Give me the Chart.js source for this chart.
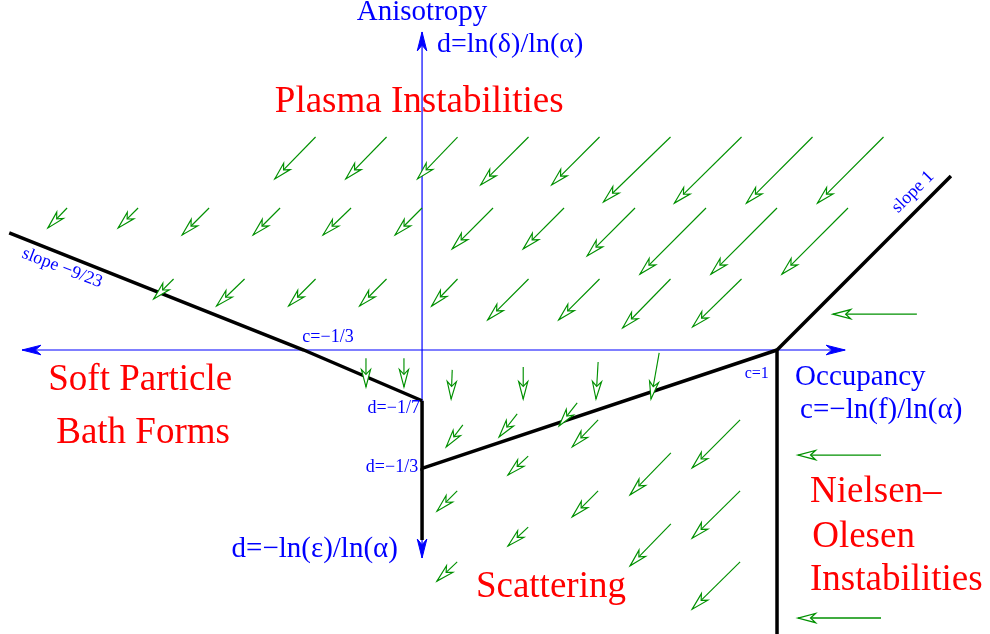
<!DOCTYPE html>
<html><head><meta charset="utf-8">
<script src="https://cdn.jsdelivr.net/npm/chart.js@4.4.0/dist/chart.umd.min.js"></script>
<style>html,body{margin:0;padding:0;background:#fff;}canvas{display:block;}</style>
</head><body>
<canvas id="c" width="990" height="634"></canvas>
<script>
// c = occupancy (horizontal), d = anisotropy (vertical)
const cRange = [-1.189, 1.6];
const dRange = [-0.8, 0.986];

// flow arrows, each [c_tail, d_tail, c_head, d_head]
const plasmaArrows = [
  [-0.3,0.6,-0.415,0.482],[-0.1,0.6,-0.215,0.482],[0.1,0.6,-0.013,0.482],
  [0.3,0.6,0.165,0.465],[0.5,0.6,0.365,0.465],[0.7,0.6,0.511,0.417],
  [0.9,0.6,0.711,0.414],[1.1,0.6,0.914,0.414],[1.3,0.6,1.114,0.414],
  [-1.0,0.4,-1.054,0.344],[-0.8,0.4,-0.856,0.344],[-0.6,0.4,-0.676,0.324],
  [-0.4,0.4,-0.476,0.324],[-0.2,0.4,-0.279,0.324],[0.0,0.4,-0.076,0.324],
  [0.2,0.4,0.085,0.285],[0.4,0.4,0.285,0.285],[0.6,0.4,0.465,0.265],
  [0.8,0.4,0.614,0.214],[1.0,0.4,0.814,0.214],[1.2,0.4,1.014,0.214],
  [-0.7,0.2,-0.756,0.144],[-0.5,0.2,-0.579,0.124],[-0.3,0.2,-0.376,0.124],
  [-0.1,0.2,-0.176,0.124],[0.1,0.2,0.027,0.124],[0.3,0.2,0.185,0.085],
  [0.5,0.2,0.385,0.085],[0.7,0.2,0.565,0.062],[0.9,0.2,0.762,0.065]
];
const axisArrows = [
  [-0.158,-0.023,-0.158,-0.104],[-0.051,-0.023,-0.051,-0.104],
  [0.085,-0.056,0.082,-0.138],[0.285,-0.048,0.285,-0.138],
  [0.496,-0.034,0.490,-0.138],[0.668,-0.008,0.645,-0.138]
];
const scatteringArrows = [
  [0.115,-0.211,0.068,-0.273],[0.268,-0.180,0.217,-0.245],
  [0.437,-0.149,0.386,-0.214],[0.496,-0.197,0.423,-0.273],
  [0.299,-0.299,0.242,-0.352],[0.701,-0.290,0.586,-0.408],
  [0.896,-0.197,0.761,-0.332],[0.099,-0.397,0.042,-0.454],
  [0.496,-0.397,0.423,-0.470],[0.896,-0.397,0.761,-0.530],
  [0.299,-0.499,0.242,-0.552],[0.701,-0.490,0.586,-0.608],
  [0.896,-0.597,0.761,-0.730],[0.099,-0.597,0.042,-0.651]
];
const nielsenArrows = [
  [1.394,0.101,1.158,0.101],[1.293,-0.296,1.059,-0.296],[1.293,-0.755,1.059,-0.755]
];

// phase boundaries
const softBoundaryC = [-1.163, -0.3333, 0];
const softBoundaryD = [0.330, 0, -0.1429];
const scatterBoundaryC = [0, 0, 1];
const scatterBoundaryD = [-0.1429, -0.3333, 0];
const downBoundaryC = [0, 0];
const downBoundaryD = [-0.3333, -0.535];
const nielsenBoundaryC = [1.49, 1, 1];
const nielsenBoundaryD = [0.49, 0, -0.8];

// coordinate axes [c0,d0,c1,d1], double-headed
const occupancyAxis = [-1.127, 0, 1.192, 0];
const anisotropyAxis = [0, -0.586, 0, 0.896];

// text labels
const labelTexts = ["Anisotropy","d=ln(δ)/ln(α)","Plasma Instabilities","Soft Particle","Bath Forms",
  "Scattering","Nielsen–","Olesen","Instabilities","Occupancy","c=−ln(f)/ln(α)","d=−ln(ε)/ln(α)",
  "c=−1/3","c=1","d=−1/7","d=−1/3","slope −9/23","slope 1"];
const labelC = [0, 0.042, -0.008, -0.794, -0.786, 0.363, 1.093, 1.099, 1.093, 1.051, 1.065, -0.068,
  -0.265, 0.977, -0.006, -0.011, -1.014, 1.383];
const labelD = [0.952, 0.859, 0.697, -0.085, -0.234, -0.668, -0.400, -0.527, -0.648, -0.076, -0.169, -0.563,
  0.037, -0.068, -0.163, -0.330, 0.231, 0.445];
const labelStyle = [ // [color, size, align, rotationDeg]
  ['#0000ff',29,'center',0],['#0000ff',28,'left',0],['#ff0000',37,'center',0],['#ff0000',37,'center',0],
  ['#ff0000',37,'center',0],['#ff0000',37,'center',0],['#ff0000',37,'left',0],['#ff0000',37,'left',0],
  ['#ff0000',37,'left',0],['#0000ff',29,'left',0],['#0000ff',29,'left',0],['#0000ff',29,'right',0],
  ['#0000ff',18,'center',0],['#0000ff',16,'right',0],['#0000ff',18,'right',0],['#0000ff',18,'right',0],
  ['#0000ff',18,'center',21],['#0000ff',18,'center',-45]
];

const GREEN = '#009000';
const datasets = [];
const greenGroups = [plasmaArrows, axisArrows, scatteringArrows, nielsenArrows];
greenGroups.forEach((g, gi) => g.forEach(a => datasets.push({
  data: [{x:a[0],y:a[1]},{x:a[2],y:a[3]}], showLine:true, pointRadius:0,
  borderColor: GREEN, borderWidth: gi===3 ? 1.4 : 1.15, kind:'green'
})));
function poly(cs, ds) { return cs.map((c,i)=>({x:c,y:ds[i]})); }
[[softBoundaryC,softBoundaryD],[scatterBoundaryC,scatterBoundaryD],[downBoundaryC,downBoundaryD],[nielsenBoundaryC,nielsenBoundaryD]]
  .forEach(p => datasets.push({data: poly(p[0],p[1]), showLine:true, pointRadius:0, borderColor:'#000',
    borderWidth:3.5, borderJoinStyle:'miter', borderCapStyle:'butt', kind:'black'}));
[occupancyAxis, anisotropyAxis].forEach(a => datasets.push({
  data:[{x:a[0],y:a[1]},{x:a[2],y:a[3]}], showLine:true, pointRadius:0, borderColor:'#0000ff', borderWidth:1.2, kind:'blue'}));

function head(ctx, x0,y0,x1,y1,len,hw,notch){
  const L = Math.hypot(x1-x0,y1-y0); const ux=(x1-x0)/L, uy=(y1-y0)/L;
  const px=-uy, py=ux; const bx=x1-ux*len, by=y1-uy*len;
  ctx.beginPath(); ctx.moveTo(x1,y1); ctx.lineTo(bx+px*hw,by+py*hw);
  ctx.lineTo(x1-ux*len*notch,y1-uy*len*notch); ctx.lineTo(bx-px*hw,by-py*hw); ctx.closePath();
}

const decor = {
  id:'decor',
  afterDatasetsDraw(chart){
    const ctx = chart.ctx, xs = chart.scales.x, ys = chart.scales.y;
    const P = (c,d)=>[xs.getPixelForValue(c), ys.getPixelForValue(d)];
    ctx.save();
    ctx.lineJoin='miter';
    greenGroups.forEach((g,gi)=>g.forEach(a=>{
      const t=P(a[0],a[1]), h=P(a[2],a[3]);
      head(ctx,t[0],t[1],h[0],h[1],17.5,4.6,0.72);
      ctx.fillStyle='#fff'; ctx.fill(); ctx.strokeStyle=GREEN; ctx.lineWidth= gi===3?1.3:1.15; ctx.stroke();
    }));
    [occupancyAxis, anisotropyAxis].forEach(a=>{
      const p0=P(a[0],a[1]), p1=P(a[2],a[3]);
      ctx.fillStyle='#0000ff'; ctx.strokeStyle='#0000ff'; ctx.lineWidth=1;
      head(ctx,p0[0],p0[1],p1[0],p1[1],19,4.8,0.7); ctx.fill(); ctx.stroke();
      head(ctx,p1[0],p1[1],p0[0],p0[1],19,4.8,0.7); ctx.fill(); ctx.stroke();
    });
    labelTexts.forEach((t,i)=>{
      const s = labelStyle[i]; const p = P(labelC[i], labelD[i]);
      ctx.save(); ctx.translate(p[0],p[1]); ctx.rotate(s[3]*Math.PI/180);
      ctx.font = s[1]+'px "Liberation Serif", "Times New Roman", serif';
      ctx.fillStyle = s[0]; ctx.textAlign = s[2]; ctx.textBaseline='middle';
      ctx.fillText(t,0,0); ctx.restore();
    });
    ctx.restore();
  }
};

new Chart(document.getElementById('c'), {
  type:'scatter',
  data:{datasets},
  options:{
    responsive:false, animation:false, devicePixelRatio:1,
    layout:{padding:0},
    plugins:{legend:{display:false}, tooltip:{enabled:false}},
    scales:{
      x:{type:'linear', min:cRange[0], max:cRange[1], display:false},
      y:{type:'linear', min:dRange[0], max:dRange[1], display:false}
    }
  },
  plugins:[decor]
});
</script>
</body></html>
